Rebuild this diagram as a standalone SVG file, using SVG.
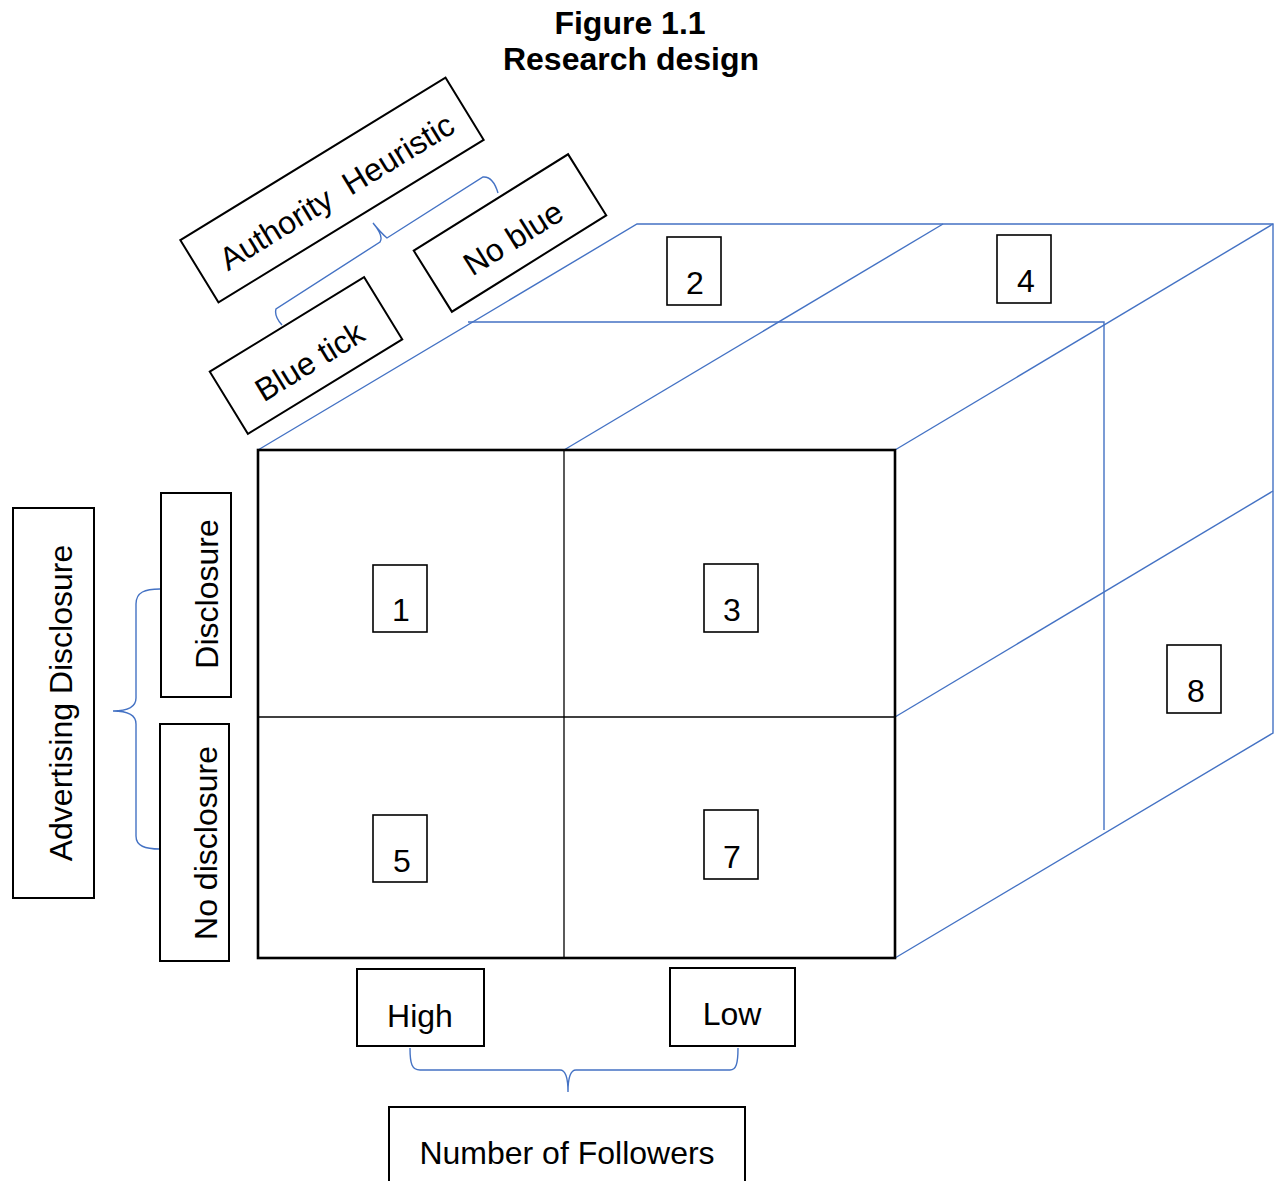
<svg xmlns="http://www.w3.org/2000/svg" width="1275" height="1181" viewBox="0 0 1275 1181">
  <style>
    text { font-family: "Liberation Sans", Arial, sans-serif; font-size: 32px; fill: #000; }
    .title { font-weight: bold; text-anchor: middle; }
    .mid { text-anchor: middle; }
    .box { fill: #fff; stroke: #000; stroke-width: 2; }
    .num { fill: #fff; stroke: #000; stroke-width: 1.6; }
    .blue { fill: none; stroke: #4472C4; stroke-width: 1.4; }
    .face { fill: none; stroke: #000; stroke-width: 2.6; }
    .grid { fill: none; stroke: #000; stroke-width: 1.3; }
  </style>

  <!-- heading -->
  <g id="title">
    <text class="title" x="630" y="34">Figure 1.1</text>
    <text class="title" x="631" y="70">Research design</text>
  </g>

  <!-- cube edges in perspective (blue) -->
  <g id="connectors">
    <path class="blue" d="M258,450 L637,224 L1273,224 L1273,733 L895,958"/>
    <path class="blue" d="M564,450 L943,224"/>
    <path class="blue" d="M895,450 L1273,224"/>
    <path class="blue" d="M895,717 L1273,491"/>
    <path class="blue" d="M468,322 L1104,322 L1104,830"/>
    <!-- braces -->
    <path class="blue" d="M282,325 Q274,316 276,309 L380,242 Q384,236 373,223 Q381,233 387,238 L483,177 Q493,176 498,193"/>
    <path class="blue" d="M160,589 C145,589 136,592 136,604 L136,698 C136,707 128,711 113,711 C128,711 136,715 136,724 L136,836 C136,846 145,849 160,849"/>
    <path class="blue" d="M410,1048 C410,1064 412,1070 420,1070 L560,1070 C566,1070 568,1078 568,1092 C568,1078 570,1070 576,1070 L730,1070 C736,1070 738,1064 738,1048"/>
  </g>

  <!-- front face of the cube -->
  <g id="front-face">
    <rect class="face" x="258" y="450" width="637" height="508"/>
    <line class="grid" x1="564" y1="450" x2="564" y2="958"/>
    <line class="grid" x1="258" y1="717" x2="895" y2="717"/>
  </g>

  <!-- numbered cells -->
  <g id="cell-1"><rect class="num" x="373" y="565" width="54" height="67"/><text class="mid" x="401" y="621">1</text></g>
  <g id="cell-2"><rect class="num" x="667" y="237" width="54" height="68"/><text class="mid" x="695" y="294">2</text></g>
  <g id="cell-3"><rect class="num" x="704" y="564" width="54" height="68"/><text class="mid" x="732" y="621">3</text></g>
  <g id="cell-4"><rect class="num" x="997" y="235" width="54" height="68"/><text class="mid" x="1026" y="292">4</text></g>
  <g id="cell-5"><rect class="num" x="373" y="815" width="54" height="67"/><text class="mid" x="402" y="872">5</text></g>
  <g id="cell-7"><rect class="num" x="704" y="810" width="54" height="69"/><text class="mid" x="732" y="868">7</text></g>
  <g id="cell-8"><rect class="num" x="1167" y="645" width="54" height="68"/><text class="mid" x="1196" y="702">8</text></g>

  <!-- authority heuristic factor (tilted) -->
  <g id="authority-heuristic" transform="translate(332,190) rotate(-31.5)">
    <rect class="box" x="-155.5" y="-36.5" width="311" height="73"/>
    <text class="mid" x="3" y="15" xml:space="preserve">Authority  Heuristic</text>
  </g>
  <g id="no-blue" transform="translate(510,233) rotate(-32)">
    <rect class="box" x="-91" y="-36" width="182" height="72"/>
    <text class="mid" x="0" y="17">No blue</text>
  </g>
  <g id="blue-tick" transform="translate(306,355.5) rotate(-31.5)">
    <rect class="box" x="-90.5" y="-36.5" width="181" height="73"/>
    <text class="mid" x="0" y="18">Blue tick</text>
  </g>

  <!-- advertising disclosure factor (vertical) -->
  <g id="advertising-disclosure">
    <rect class="box" x="13" y="508" width="81" height="390"/>
    <text class="mid" transform="translate(72,703) rotate(-90)">Advertising Disclosure</text>
  </g>
  <g id="disclosure">
    <rect class="box" x="161" y="493" width="70" height="204"/>
    <text class="mid" transform="translate(218,594) rotate(-90)">Disclosure</text>
  </g>
  <g id="no-disclosure">
    <rect class="box" x="160" y="724" width="69" height="237"/>
    <text class="mid" transform="translate(217,843) rotate(-90)">No disclosure</text>
  </g>

  <!-- number of followers factor -->
  <g id="high">
    <rect class="box" x="357" y="969" width="127" height="77"/>
    <text class="mid" x="420" y="1027">High</text>
  </g>
  <g id="low">
    <rect class="box" x="670" y="968" width="125" height="78"/>
    <text class="mid" x="732" y="1025">Low</text>
  </g>
  <g id="number-of-followers">
    <rect class="box" x="389" y="1107" width="356" height="90"/>
    <text class="mid" x="567" y="1164">Number of Followers</text>
  </g>
</svg>
